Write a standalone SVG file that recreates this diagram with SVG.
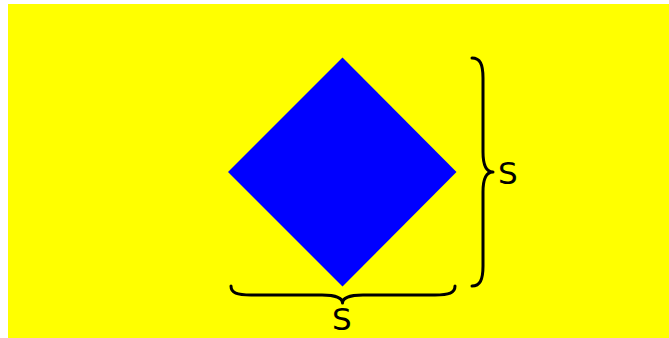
<svg xmlns="http://www.w3.org/2000/svg" width="669" height="338" viewBox="0 0 669 338">
<style>
.brace{fill:none;stroke:#000;stroke-width:3;stroke-linecap:round;stroke-linejoin:round}
.lbl{font-family:"DejaVu Sans",sans-serif;font-size:31px;fill:#000}
</style>
<rect x="0" y="0" width="669" height="338" fill="#fff"/>
<rect x="8" y="4" width="661" height="334" fill="#ffff00"/>
<g id="diamond">
<polygon points="342.5,57.5 456.5,172 342.5,286.5 228,172" fill="#0000ff"/>
</g>
<g id="connectors">
<path class="brace" d="M472,58 C480,58 483,64 483,78 L483,152 C483,165 486,172 493,172 C486,172 483,179 483,192 L483,266 C483,280 480,286 472,286"/>
<path class="brace" d="M231,286 C231,293 237,295 251,295 L322,295 C335,295 342.5,298 342.5,303 C342.5,298 350,295 363,295 L435,295 C449,295 455,293 455,286"/>
</g>
<g id="label-right"><text class="lbl" x="498" y="184">S</text></g>
<g id="label-bottom"><text class="lbl" x="332" y="330">S</text></g>
</svg>
